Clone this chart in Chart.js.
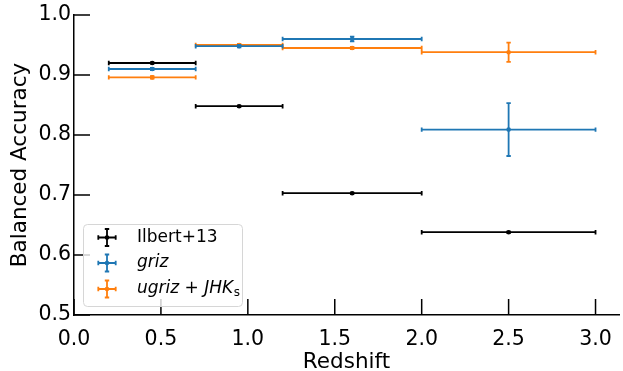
<!DOCTYPE html>
<html>
<head>
<meta charset="utf-8">
<script src="https://cdn.jsdelivr.net/npm/chart.js@4/dist/chart.umd.min.js"></script>
<style>
  body { margin: 0; background: #fff; }
  canvas { display: block; }
</style>
</head>
<body>
<canvas id="chart" width="623" height="371"></canvas>
<script>
// redshift bins
var zCenter = [0.45, 0.95, 1.6, 2.5];
var zLow = [0.2, 0.7, 1.2, 2.0];
var zHigh = [0.7, 1.2, 2.0, 3.0];

// balanced accuracy per bin, and its error
var ilbertAcc = [0.920, 0.848, 0.703, 0.638];
var ilbertErr = [0.001, 0.001, 0.001, 0.001];
var grizAcc = [0.910, 0.948, 0.960, 0.809];
var grizErr = [0.002, 0.002, 0.004, 0.044];
var ugrizAcc = [0.896, 0.950, 0.945, 0.938];
var ugrizErr = [0.002, 0.002, 0.002, 0.016];

var xTicks = [0, 0.5, 1.0, 1.5, 2.0, 2.5, 3.0];
var yTicks = [0.5, 0.6, 0.7, 0.8, 0.9, 1.0];

var FONT = "'DejaVu Sans', sans-serif";

function makePoints(acc, err) {
    return zCenter.map(function(z, i) {
        return { x: z, y: acc[i], xMin: zLow[i], xMax: zHigh[i], yMin: acc[i] - err[i], yMax: acc[i] + err[i] };
    });
}

function makeSet(label, acc, err, color) {
    return {
        label: label,
        data: makePoints(acc, err),
        backgroundColor: color,
        borderColor: color,
        pointRadius: 2.3,
        pointBorderWidth: 0,
        showLine: false
    };
}

// error bars, drawn just before each dataset's markers
var errorBars = {
    id: 'errorBars',
    beforeDatasetDraw: function(chart, args) {
        var ds = chart.data.datasets[args.index];
        var xs = chart.scales.x, ys = chart.scales.y;
        var ctx = chart.ctx;
        var cap = 2.2;
        ctx.save();
        ctx.strokeStyle = ds.borderColor;
        ctx.lineWidth = 1.8;
        ds.data.forEach(function(p) {
            var x0 = xs.getPixelForValue(p.xMin), x1 = xs.getPixelForValue(p.xMax);
            var y0 = ys.getPixelForValue(p.yMin), y1 = ys.getPixelForValue(p.yMax);
            var px = xs.getPixelForValue(p.x), py = ys.getPixelForValue(p.y);
            ctx.beginPath();
            ctx.moveTo(x0, py); ctx.lineTo(x1, py);
            ctx.moveTo(x0, py - cap); ctx.lineTo(x0, py + cap);
            ctx.moveTo(x1, py - cap); ctx.lineTo(x1, py + cap);
            ctx.moveTo(px, y0); ctx.lineTo(px, y1);
            ctx.moveTo(px - cap, y0); ctx.lineTo(px + cap, y0);
            ctx.moveTo(px - cap, y1); ctx.lineTo(px + cap, y1);
            ctx.stroke();
        });
        ctx.restore();
    }
};

// inward tick marks, matplotlib style
var inTicks = {
    id: 'inTicks',
    afterDraw: function(chart) {
        var ctx = chart.ctx, a = chart.chartArea;
        var xs = chart.scales.x, ys = chart.scales.y;
        ctx.save();
        ctx.strokeStyle = '#000';
        ctx.lineWidth = 1.5;
        ctx.beginPath();
        xTicks.forEach(function(v) {
            var px = xs.getPixelForValue(v);
            ctx.moveTo(px, a.bottom); ctx.lineTo(px, a.bottom - 16);
        });
        yTicks.forEach(function(v) {
            var py = ys.getPixelForValue(v);
            ctx.moveTo(a.left, py); ctx.lineTo(a.left + 16, py);
        });
        ctx.stroke();
        ctx.restore();
    }
};

// legend box in the lower left
var errLegend = {
    id: 'errLegend',
    afterDraw: function(chart) {
        var ctx = chart.ctx;
        var bx = 83, by = 224, bw = 159, bh = 82, r = 4;
        ctx.save();
        ctx.fillStyle = 'rgba(255,255,255,0.8)';
        ctx.strokeStyle = '#d6d6d6';
        ctx.lineWidth = 1;
        ctx.beginPath();
        ctx.roundRect(bx + 0.5, by + 0.5, bw, bh, r);
        ctx.fill();
        ctx.stroke();

        var rows = [237.5, 263, 289];
        chart.data.datasets.forEach(function(ds, i) {
            var cx = 107, cy = rows[i], hw = 8.7, hh = 8.5, cap = 2.2;
            ctx.strokeStyle = ds.borderColor;
            ctx.lineWidth = 1.8;
            ctx.beginPath();
            ctx.moveTo(cx - hw, cy); ctx.lineTo(cx + hw, cy);
            ctx.moveTo(cx - hw, cy - cap); ctx.lineTo(cx - hw, cy + cap);
            ctx.moveTo(cx + hw, cy - cap); ctx.lineTo(cx + hw, cy + cap);
            ctx.moveTo(cx, cy - hh); ctx.lineTo(cx, cy + hh);
            ctx.moveTo(cx - cap, cy - hh); ctx.lineTo(cx + cap, cy - hh);
            ctx.moveTo(cx - cap, cy + hh); ctx.lineTo(cx + cap, cy + hh);
            ctx.stroke();
            ctx.fillStyle = ds.borderColor;
            ctx.beginPath();
            ctx.arc(cx, cy, 2.3, 0, Math.PI * 2);
            ctx.fill();
        });

        ctx.fillStyle = '#000';
        ctx.textBaseline = 'middle';
        ctx.textAlign = 'left';
        var tx = 137, fs = 17;
        ctx.font = fs + 'px ' + FONT;
        ctx.fillText('Ilbert+13', tx, rows[0]);
        ctx.font = 'italic ' + fs + 'px ' + FONT;
        ctx.fillText('griz', tx, rows[1]);
        var s1 = 'ugriz';
        ctx.fillText(s1, tx, rows[2]);
        var w = ctx.measureText(s1).width;
        ctx.font = fs + 'px ' + FONT;
        var plus = ' + ';
        ctx.fillText(plus, tx + w, rows[2]);
        w += ctx.measureText(plus).width;
        ctx.font = 'italic ' + fs + 'px ' + FONT;
        ctx.fillText('JHK', tx + w, rows[2]);
        w += ctx.measureText('JHK').width;
        ctx.font = '12px ' + FONT;
        ctx.fillText('s', tx + w + 0.5, rows[2] + 4);
        ctx.restore();
    }
};

var chart = new Chart(document.getElementById('chart').getContext('2d'), {
    type: 'scatter',
    data: {
        datasets: [
            makeSet('Ilbert+13', ilbertAcc, ilbertErr, '#000000'),
            makeSet('griz', grizAcc, grizErr, '#1f77b4'),
            makeSet('ugriz+JHKs', ugrizAcc, ugrizErr, '#ff7f0e')
        ]
    },
    options: {
        responsive: false,
        animation: false,
        events: [],
        layout: { padding: { top: 15, right: 0, left: 0, bottom: 0 } },
        plugins: {
            legend: { display: false },
            tooltip: { enabled: false }
        },
        scales: {
            x: {
                type: 'linear',
                min: 0,
                max: 3.135,
                afterBuildTicks: function(s) { s.ticks = xTicks.map(function(v) { return { value: v }; }); },
                afterFit: function(s) { s.height = 56; },
                grid: { display: false },
                border: { display: true, color: '#000', width: 1.5 },
                ticks: {
                    padding: 4,
                    color: '#000',
                    font: { family: FONT, size: 20.5 },
                    callback: function(v) { return v.toFixed(1); }
                },
                title: {
                    display: true,
                    text: 'Redshift',
                    color: '#000',
                    font: { family: FONT, size: 21.5 },
                    padding: { top: 0, bottom: -4 }
                }
            },
            y: {
                type: 'linear',
                min: 0.5,
                max: 1.0,
                afterBuildTicks: function(s) { s.ticks = yTicks.map(function(v) { return { value: v }; }); },
                afterFit: function(s) { s.width = 74; },
                grid: { display: false },
                border: { display: true, color: '#000', width: 1.5 },
                ticks: {
                    padding: -5,
                    color: '#000',
                    font: { family: FONT, size: 20.5 },
                    callback: function(v) { return v.toFixed(1); }
                },
                title: {
                    display: true,
                    text: 'Balanced Accuracy',
                    color: '#000',
                    font: { family: FONT, size: 21.5 },
                    padding: { top: 7.5, bottom: 0 }
                }
            }
        }
    },
    plugins: [errorBars, inTicks, errLegend]
});
</script>
</body>
</html>
